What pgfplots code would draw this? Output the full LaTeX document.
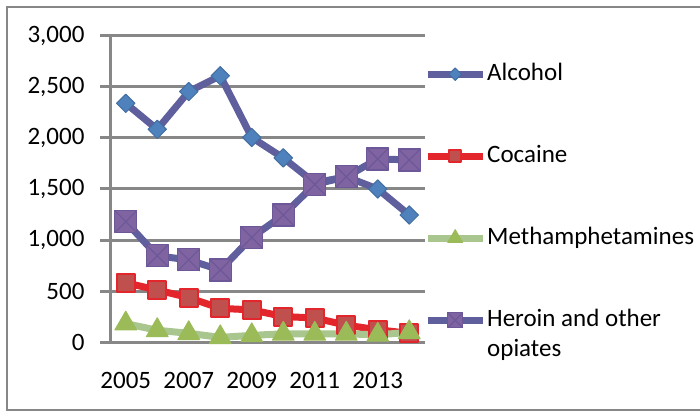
\documentclass[border=0pt]{standalone}
\usepackage{pgfplots}
\pgfplotsset{compat=1.18}
\usepackage{fontspec}
\setmainfont{Carlito}
\definecolor{slate}{RGB}{95,95,158}
\definecolor{alcm}{RGB}{79,129,189}
\definecolor{herm}{RGB}{128,100,162}
\definecolor{herb}{RGB}{108,88,152}
\definecolor{cocl}{RGB}{227,38,43}
\definecolor{cocm}{RGB}{192,80,77}
\definecolor{metl}{RGB}{168,198,142}
\definecolor{metm}{RGB}{155,187,89}
\definecolor{gridc}{RGB}{135,135,135}
\pgfdeclareplotmark{squarex}{%
  \pgfpathrectangle{\pgfqpoint{-\pgfplotmarksize}{-\pgfplotmarksize}}{\pgfqpoint{2\pgfplotmarksize}{2\pgfplotmarksize}}%
  \pgfusepathqfillstroke
  \pgfpathmoveto{\pgfqpoint{-\pgfplotmarksize}{-\pgfplotmarksize}}\pgfpathlineto{\pgfqpoint{\pgfplotmarksize}{\pgfplotmarksize}}%
  \pgfpathmoveto{\pgfqpoint{-\pgfplotmarksize}{\pgfplotmarksize}}\pgfpathlineto{\pgfqpoint{\pgfplotmarksize}{-\pgfplotmarksize}}%
  \pgfusepathqstroke
}
\newcommand{\bigf}{\fontsize{25}{30}\selectfont}
\begin{document}
\begin{tikzpicture}
\path[use as bounding box] (0pt,0pt) rectangle (700pt,412pt);
\draw[gridc, line width=1.5pt] (710pt,405pt) -- (7pt,405pt) -- (7pt,2pt) -- (710pt,2pt);
\begin{axis}[
  at={(110pt,70pt)}, anchor=south west,
  scale only axis, width=315pt, height=306pt,
  xmin=2004.5, xmax=2014.5, ymin=0, ymax=3000,
  axis lines*=left,
  axis line style={gridc, line width=3pt},
  tick align=outside,
  ytick={0,500,...,3000},
  xtick={2005,2007,2009,2011,2013},
  xticklabels={2005,2007,2009,2011,2013},
  minor xtick={2004.5,2005.5,...,2014.5},
  major tick length=10pt, minor tick length=10pt,
  ytick style={gridc, line width=3pt},
  xtick style={draw=none},
  minor x tick style={gridc, line width=3pt},
  ymajorgrids, grid style={gridc, line width=3pt},
  ticklabel style={font=\bigf},
  /pgf/number format/assume math mode=true,
  yticklabel style={/pgf/number format/1000 sep={,}, xshift=-12pt},
  xticklabel style={yshift=-17pt},
  clip=false,
  legend style={at={(axis description cs:1,1)}, anchor=north west,
    xshift=-1pt, yshift=-25pt,
    draw=none, fill=none, font=\bigf, row sep=56pt, column sep=0pt,
    inner sep=0pt, nodes={inner sep=1pt, text height=18pt, text depth=6pt}},
  legend cell align=left,
  legend image code/.code={\draw[mark repeat=2,mark phase=2,#1,every mark/.append style={scale=0.68}] plot coordinates {(0pt,0pt)(27.5pt,0pt)(55pt,0pt)};},
  every axis plot/.append style={line width=7pt, line join=round},
]
\addplot[slate, mark=square*, mark size=6.5pt, mark options={rotate=45, fill=alcm, draw=alcm!85!black, line width=1pt}]
  coordinates {(2005,2340)(2006,2085)(2007,2455)(2008,2610)(2009,2005)(2010,1805)(2011,1560)(2012,1620)(2013,1500)(2014,1245)};
\addlegendentry{Alcohol}
\addplot[cocl, mark=square*, mark size=9pt, mark options={fill=cocm, draw=cocl, line width=2pt}]
  coordinates {(2005,580)(2006,510)(2007,435)(2008,330)(2009,315)(2010,250)(2011,235)(2012,165)(2013,120)(2014,85)};
\addlegendentry{Cocaine}
\addplot[metl, mark=triangle*, mark size=12.5pt, mark options={fill=metm, draw=metm, line width=1pt}]
  coordinates {(2005,180)(2006,115)(2007,85)(2008,45)(2009,65)(2010,80)(2011,80)(2012,80)(2013,70)(2014,95)};
\addlegendentry{Methamphetamines}
\addplot[slate, mark=squarex, mark size=11pt, mark options={fill=herm, draw=herb, line width=1.2pt}]
  coordinates {(2005,1180)(2006,845)(2007,805)(2008,705)(2009,1025)(2010,1245)(2011,1545)(2012,1620)(2013,1795)(2014,1785)};
\addlegendentry{\begin{tabular}[t]{@{}l@{}}Heroin and other\\opiates\end{tabular}}
\end{axis}
\end{tikzpicture}
\end{document}
